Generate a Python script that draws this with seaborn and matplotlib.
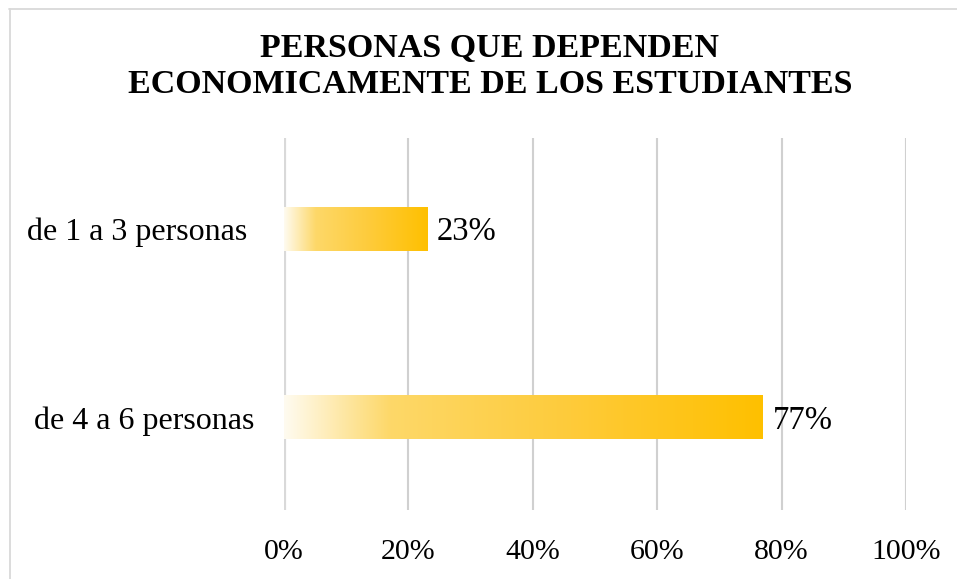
import numpy as np
import pandas as pd
import matplotlib
matplotlib.use("Agg")
import matplotlib.pyplot as plt
import seaborn as sns
from matplotlib.colors import LinearSegmentedColormap
from matplotlib.lines import Line2D
from matplotlib.ticker import FuncFormatter

# the first category carries a trailing space, as in the source sheet
categorias = ["de 1 a 3 personas ", "de 4 a 6 personas"]
porcentajes = [23, 77]
ticks = [0, 20, 40, 60, 80, 100]
titulo = "PERSONAS QUE DEPENDEN\nECONOMICAMENTE DE LOS ESTUDIANTES"

df = pd.DataFrame({"categoria": categorias, "porcentaje": porcentajes})

sns.set_theme(style="white")
plt.rcParams["font.family"] = ["Liberation Serif", "DejaVu Serif"]

fig = plt.figure(figsize=(9.57, 5.79), dpi=100)
ax = fig.add_axes([284 / 957, 1 - 510 / 579, 622 / 957, 372 / 579])

sns.barplot(data=df, x="porcentaje", y="categoria", orient="h", width=0.233,
            color="#FFC000", ax=ax, zorder=2)

# gradient fill over each bar
cmap = LinearSegmentedColormap.from_list(
    "oro", [(0, "#FFFBF0"), (0.22, "#FDD869"), (0.6, "#FECB3A"), (1, "#FFC000")])
grad = np.linspace(0, 1, 256).reshape(1, -1)
for patch in ax.patches:
    x0, y0 = patch.get_x(), patch.get_y()
    w, h = patch.get_width(), patch.get_height()
    ax.imshow(grad, cmap=cmap, aspect="auto", extent=[x0, x0 + w, y0 + h, y0],
              zorder=3, interpolation="bicubic")
    patch.set_alpha(0)

for val, patch in zip(porcentajes, ax.patches):
    ax.text(patch.get_x() + patch.get_width() + 1.6, patch.get_y() + patch.get_height() / 2,
            f"{val}%", va="center_baseline", ha="left", fontsize=23.5, color="#000000",
            zorder=4)

ax.set_xlim(0, 100)
ax.set_ylim(1.49, -0.48)
ax.set_xticks(ticks)
ax.xaxis.set_major_formatter(FuncFormatter(lambda v, p: f"{v:.0f}%"))
ax.grid(axis="x", color="#D0D0D0", linewidth=1.5, zorder=0)
ax.grid(axis="y", visible=False)
ax.axvline(0, color="#D9D9D9", linewidth=3, zorder=1)
sns.despine(ax=ax, left=True, bottom=True)
ax.set_xlabel("")
ax.set_ylabel("")
ax.tick_params(axis="x", length=0, pad=21, labelsize=21.5, colors="#000000")
ax.tick_params(axis="y", length=0, pad=21, labelsize=23, colors="#000000")

fig.text(490 / 957, 1 - 33 / 579, titulo, ha="center", va="top", fontsize=24.5,
         fontweight="bold", color="#000000", linespacing=1.22)

# chart border: only top and left edges are inside the picture
fig.lines.append(Line2D([9 / 957, 1], [1 - 8.5 / 579] * 2, transform=fig.transFigure,
                        color="#D9D9D9", linewidth=1.3))
fig.lines.append(Line2D([9.5 / 957] * 2, [0, 1 - 8.5 / 579], transform=fig.transFigure,
                        color="#D9D9D9", linewidth=1.3))

fig.savefig("out.png", dpi=100)
